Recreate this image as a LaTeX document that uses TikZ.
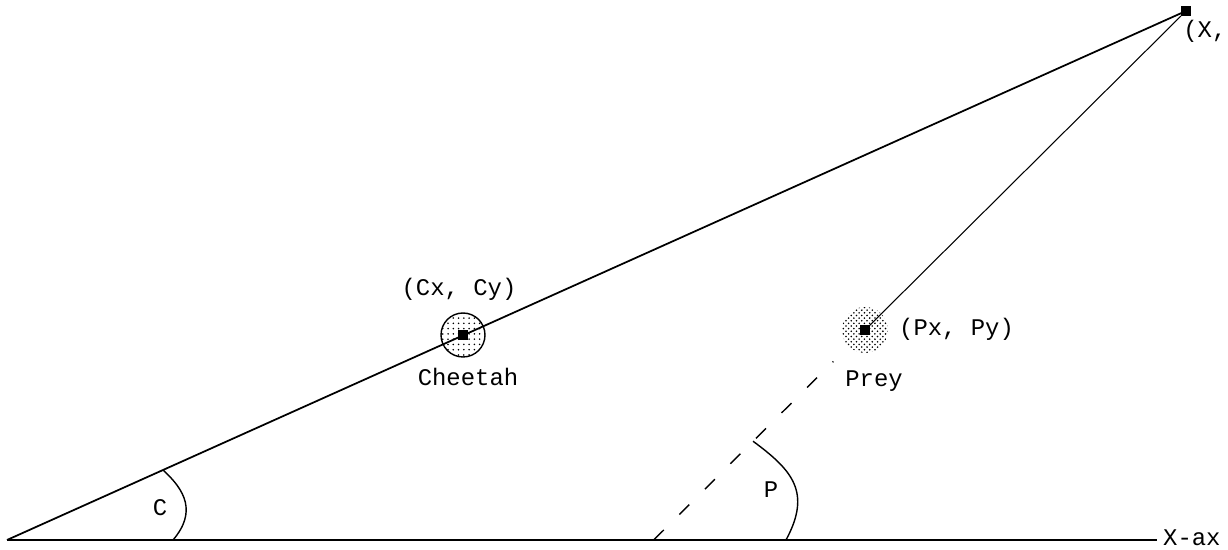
\documentclass[tikz,border=0pt]{standalone}
\usepackage{fontspec}
\setmonofont{Liberation Mono}
\usetikzlibrary{calc,patterns}
\tikzset{
  plain label/.style={font=\ttfamily\fontsize{13.6}{16}\selectfont},
  spot/.style={fill=black,minimum size=#1,inner sep=0pt,outer sep=0pt},
  angle mark/.style={line width=0.8pt},
}

\begin{document}
\begin{tikzpicture}[x=0.02cm,y=-0.02cm]
  \clip (0,0) rectangle (1228,550);

  \coordinate (O) at (7,540);
  \node[spot=5.6pt] (X) at (1186,11) {};

  % cheetah and prey spots
  \node[circle,draw,line width=0.8pt,pattern=dots,minimum size=0.88cm,
    inner sep=0pt] (cheetahzone) at (463,335) {};
  \node[circle,pattern=crosshatch dots,minimum size=0.92cm,
    inner sep=0pt] (preyzone) at (865,330) {};

  \draw[line width=1pt] (O) -- (X);
  \node[spot=5.4pt] (cheetah) at (463,335) {};
  \node[spot=5.4pt] (prey) at (865,330) {};
  \draw[line width=0.6pt] (prey) -- (X);

  \coordinate (F) at ($(X)!1.658!(prey)$);
  \draw[line width=0.8pt,dash pattern=on 8pt off 12.5pt]
    (F) -- ($(F)!0.85!(prey)$);

  \node[plain label,anchor=west] (xaxis) at (1157,538) {X-ax};
  \draw[line width=1.4pt] (O) -- (O -| xaxis.west);
  \node[plain label,anchor=north west,inner sep=0pt] (xlabel) at (1183,20) {(X,};

  \node[plain label] (cxy) at (459,289) {(Cx, Cy)};
  \node[plain label] (cname) at (468,377) {Cheetah};
  \node[plain label,anchor=west] (pxy) at (893,329) {(Px, Py)};
  \node[plain label] (pname) at (874,381) {Prey};

  % angles
  \coordinate (ca) at ($(O)!0.1323!(X)$);
  \coordinate (cb) at (173,540);
  \draw[angle mark] (ca) .. controls (185,490) and (197,512) .. (cb);
  \node[plain label] (cangle) at (160,508) {C};

  \coordinate (pa) at ($(F)!0.47!(prey)$);
  \coordinate (pb) at (786,540);
  \draw[angle mark] (pa) .. controls (792,470) and (812,492) .. (pb);
  \node[plain label] (pangle) at (771,490) {P};
\end{tikzpicture}
\end{document}
